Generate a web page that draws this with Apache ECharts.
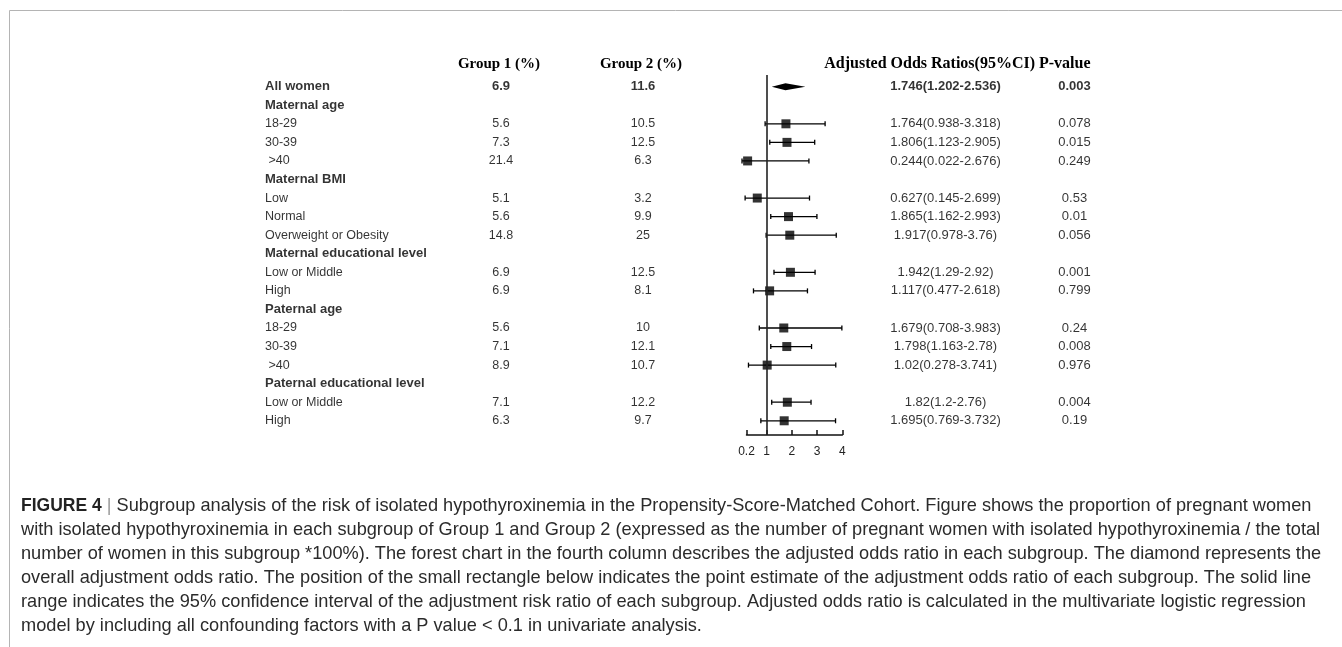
<!DOCTYPE html>
<html><head><meta charset="utf-8">
<script src="https://cdn.jsdelivr.net/npm/echarts@6/dist/echarts.min.js"></script>
<style>html,body{margin:0;padding:0;background:#fff}#c{width:1342px;height:647px}</style>
</head><body><div id="c"></div>
<script>
// ---------- data ----------
const labels = ["All women","Maternal age","18-29","30-39"," >40","Maternal BMI","Low","Normal","Overweight or Obesity","Maternal educational level","Low or Middle","High","Paternal age","18-29","30-39"," >40","Paternal educational level","Low or Middle","High"];
const rowType = ["overall","header","sub","sub","sub","header","sub","sub","sub","header","sub","sub","header","sub","sub","sub","header","sub","sub"];
const group1 = [6.9,null,5.6,7.3,21.4,null,5.1,5.6,14.8,null,6.9,6.9,null,5.6,7.1,8.9,null,7.1,6.3];
const group2 = [11.6,null,10.5,12.5,6.3,null,3.2,9.9,25,null,12.5,8.1,null,10,12.1,10.7,null,12.2,9.7];
const orVal = [1.746,null,1.764,1.806,0.244,null,0.627,1.865,1.917,null,1.942,1.117,null,1.679,1.798,1.02,null,1.82,1.695];
const ciLow = [1.202,null,0.938,1.123,0.022,null,0.145,1.162,0.978,null,1.29,0.477,null,0.708,1.163,0.278,null,1.2,0.769];
const ciHigh = [2.536,null,3.318,2.905,2.676,null,2.699,2.993,3.76,null,2.92,2.618,null,3.983,2.78,3.741,null,2.76,3.732];
const pVal = [0.003,null,0.078,0.015,0.249,null,0.53,0.01,0.056,null,0.001,0.799,null,0.24,0.008,0.976,null,0.004,0.19];
const axisTicks = [0.2,1,2,3,4];
const headers = ["Group 1 (%)","Group 2 (%)","Adjusted Odds Ratios(95%CI) P-value"];
const captionLines = [
 "Subgroup analysis of the risk of isolated hypothyroxinemia in the Propensity-Score-Matched Cohort. Figure shows the proportion of pregnant women",
 "with isolated hypothyroxinemia in each subgroup of Group 1 and Group 2 (expressed as the number of pregnant women with isolated hypothyroxinemia / the total",
 "number of women in this subgroup *100%). The forest chart in the fourth column describes the adjusted odds ratio in each subgroup. The diamond represents the",
 "overall adjustment odds ratio. The position of the small rectangle below indicates the point estimate of the adjustment odds ratio of each subgroup. The solid line",
 "range indicates the 95% confidence interval of the adjustment risk ratio of each subgroup. Adjusted odds ratio is calculated in the multivariate logistic regression",
 "model by including all confounding factors with a P value < 0.1 in univariate analysis."
];

// ---------- layout ----------
const SANS = "'Liberation Sans', Arial, sans-serif";
const SERIF = "'Liberation Serif', 'Times New Roman', serif";
const col = {label: 265, g1: 501, g2: 643, or: 945.5, p: 1074.5};
const gridTop = 75, gridH = 360;
const yMin = -0.63, yMax = 18.766;
const TXT = '#000';
const CAP = 18.2;

function textCol(x, arr, fmt, size, pos) {
  const data = [];
  arr.forEach((v, i) => {
    if (v === null || v === undefined) return;
    const strong = rowType[i] !== 'sub';
    data.push({value: [x, i, fmt(v, i)], label: {fontWeight: strong ? 'bold' : 'normal', fontSize: strong ? 13 : size}});
  });
  return {
    type: 'scatter', xAxisIndex: 0, yAxisIndex: 0, symbolSize: 0, silent: true,
    itemStyle: {color: 'rgba(0,0,0,0)'},
    label: {show: true, position: pos || 'inside', distance: 0, color: TXT, fontFamily: SANS,
      formatter: p => p.value[2]},
    data: data
  };
}

const whiskerData = [], squareData = [], diamondData = [];
orVal.forEach((v, i) => {
  if (v === null) return;
  if (rowType[i] === 'overall') diamondData.push([ciLow[i], v, ciHigh[i], i]);
  else { whiskerData.push([ciLow[i], ciHigh[i], i]); squareData.push([v, i]); }
});

const chart = echarts.init(document.getElementById('c'), null, {renderer: 'canvas'});
chart.setOption({
  animation: false,
  backgroundColor: '#fff',
  title: {
    left: 21, top: 494, padding: 0,
    text: '{b|FIGURE 4} {s||} ' + captionLines.join('\n'),
    textStyle: {fontFamily: SANS, fontSize: CAP, lineHeight: 24, color: '#2b2b2b', fontWeight: 'normal',
      rich: {b: {fontFamily: SANS, fontSize: 17.5, lineHeight: 24, fontWeight: 'bold', color: '#222'},
             s: {fontFamily: SANS, fontSize: CAP, lineHeight: 24, color: '#999'}}}
  },
  grid: [
    {left: 0, right: 0, top: gridTop, height: gridH},
    {left: 746.5, width: 95.8, top: gridTop, height: gridH}
  ],
  xAxis: [
    {gridIndex: 0, type: 'value', min: 0, max: 1342, show: false},
    {gridIndex: 1, type: 'value', min: 0.2, max: 4,
      axisLine: {show: true, onZero: false, lineStyle: {color: '#111', width: 1.5}},
      axisTick: {show: true, inside: true, length: 5, customValues: axisTicks, lineStyle: {color: '#111', width: 1.5}},
      axisLabel: {show: true, customValues: axisTicks, color: '#222', fontSize: 12, margin: 11, fontFamily: SANS},
      splitLine: {show: false}}
  ],
  yAxis: [
    {gridIndex: 0, type: 'value', inverse: true, min: yMin, max: yMax, show: false},
    {gridIndex: 1, type: 'value', inverse: true, min: yMin, max: yMax, show: false}
  ],
  graphic: [
    {type: 'line', silent: true, shape: {x1: 9.5, y1: 10.5, x2: 1342, y2: 10.5}, style: {stroke: '#b4b4b4', lineWidth: 1}},
    {type: 'line', silent: true, shape: {x1: 9.5, y1: 10.5, x2: 9.5, y2: 647}, style: {stroke: '#b4b4b4', lineWidth: 1}},
    {type: 'text', silent: true, x: 499, y: 64.3, style: {text: headers[0], font: 'bold 15px ' + SERIF, fill: TXT, align: 'center', verticalAlign: 'middle'}},
    {type: 'text', silent: true, x: 641, y: 64.3, style: {text: headers[1], font: 'bold 15px ' + SERIF, fill: TXT, align: 'center', verticalAlign: 'middle'}},
    {type: 'text', silent: true, x: 824.3, y: 64.3, style: {text: headers[2], font: 'bold 16px ' + SERIF, fill: TXT, align: 'left', verticalAlign: 'middle'}}
  ],
  series: [
    textCol(col.label, labels, v => v, 12.5, 'right'),
    textCol(col.g1, group1, v => String(v), 12.5),
    textCol(col.g2, group2, v => String(v), 12.5),
    textCol(col.or, orVal, (v, i) => v + '(' + ciLow[i] + '-' + ciHigh[i] + ')', 13),
    textCol(col.p, pVal, v => String(v), 13),
    {
      type: 'custom', xAxisIndex: 1, yAxisIndex: 1, clip: false, silent: true, z: 2,
      data: whiskerData, encode: {x: [0, 1], y: 2},
      renderItem: function (params, api) {
        const y = api.value(2);
        const a = api.coord([api.value(0), y]);
        const b = api.coord([api.value(1), y]);
        const h = 2.5, st = {stroke: '#000', lineWidth: 1.3};
        return {type: 'group', children: [
          {type: 'line', shape: {x1: a[0], y1: a[1], x2: b[0], y2: b[1]}, style: st},
          {type: 'line', shape: {x1: a[0], y1: a[1] - h, x2: a[0], y2: a[1] + h}, style: st},
          {type: 'line', shape: {x1: b[0], y1: b[1] - h, x2: b[0], y2: b[1] + h}, style: st}
        ]};
      },
      markLine: {silent: true, symbol: 'none', label: {show: false},
        lineStyle: {color: '#222', width: 1.6, type: 'solid'}, data: [{xAxis: 1}]}
    },
    {
      type: 'scatter', xAxisIndex: 1, yAxisIndex: 1, clip: false, silent: true, z: 3,
      symbol: 'rect', symbolSize: 9, itemStyle: {color: '#000'}, data: squareData
    },
    {
      type: 'custom', xAxisIndex: 1, yAxisIndex: 1, clip: false, silent: true, z: 3,
      data: diamondData, encode: {x: [0, 1, 2], y: 3},
      renderItem: function (params, api) {
        const y = api.value(3);
        const l = api.coord([api.value(0), y]);
        const m = api.coord([api.value(1), y]);
        const r = api.coord([api.value(2), y]);
        const h = 3.5;
        return {type: 'polygon', shape: {points: [[l[0], l[1]], [m[0], m[1] - h], [r[0], r[1]], [m[0], m[1] + h]]},
          style: {fill: '#000'}};
      }
    }
  ]
});
</script></body></html>
